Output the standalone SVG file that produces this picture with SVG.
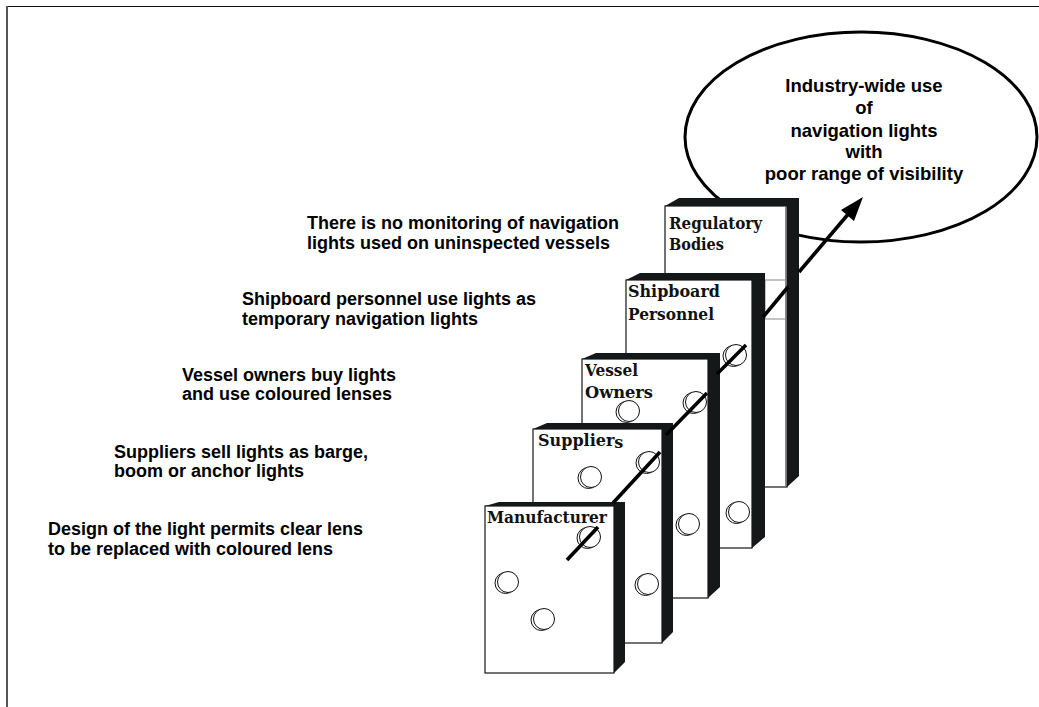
<svg xmlns="http://www.w3.org/2000/svg" width="1039" height="707" viewBox="0 0 1039 707">
<style>
.side{fill:#151818;stroke:none}
.face{fill:#fff;stroke:#151818;stroke-width:1.2}
.lbl{font-family:"DejaVu Serif","Liberation Serif",serif;font-weight:bold;font-size:16px;fill:#111}
.note{font-family:"Liberation Sans",Arial,sans-serif;font-weight:bold;font-size:18px;fill:#000}
.oc{font-family:"Liberation Sans",Arial,sans-serif;font-weight:bold;font-size:18.5px;fill:#000;text-anchor:middle}
.hole{fill:#fff;stroke:#111;stroke-width:1}
.ray{stroke:#000;stroke-width:3.6;fill:none;stroke-linecap:butt}
</style>
<defs>
<g id="h"><circle class="hole" cx="-2.5" cy="1" r="10.5"/><circle class="hole" cx="0" cy="0" r="10.5"/></g>
</defs>
<rect width="1039" height="707" fill="#fff"/>
<g id="frame">
<line x1="7" y1="6.5" x2="1039" y2="6.5" stroke="#111" stroke-width="1.2"/>
<line x1="7" y1="6" x2="7" y2="707" stroke="#555" stroke-width="2"/>
</g>
<g id="outcome">
<ellipse cx="861" cy="137" rx="176" ry="105" fill="#fff" stroke="#000" stroke-width="3"/>
<text class="oc" x="864" y="92">Industry-wide use</text>
<text class="oc" x="864" y="114">of</text>
<text class="oc" x="864" y="137">navigation lights</text>
<text class="oc" x="864" y="158">with</text>
<text class="oc" x="864" y="180">poor range of visibility</text>
</g>
<g id="notes">
<text class="note" x="307" y="229">There is no monitoring of navigation</text>
<text class="note" x="307" y="249">lights used on uninspected vessels</text>
<text class="note" x="242" y="305">Shipboard personnel use lights as</text>
<text class="note" x="242" y="325">temporary navigation lights</text>
<text class="note" x="182" y="381">Vessel owners buy lights</text>
<text class="note" x="182" y="400">and use coloured lenses</text>
<text class="note" x="114" y="458">Suppliers sell lights as barge,</text>
<text class="note" x="114" y="477">boom or anchor lights</text>
<text class="note" x="48" y="535">Design of the light permits clear lens</text>
<text class="note" x="48" y="555">to be replaced with coloured lens</text>
</g>
<g id="regulatory">
<polygon class="side" points="665,206 679,198 799,198 799,476 787,487 787,206"/>
<rect class="face" x="665" y="206" width="122" height="281"/>
<line x1="785.5" y1="207" x2="785.5" y2="486" stroke="#888" stroke-width="1"/>
<rect x="765" y="280" width="20.5" height="39" fill="none" stroke="#888" stroke-width="1"/>
<text class="lbl" x="669" y="229" textLength="93" lengthAdjust="spacingAndGlyphs">Regulatory</text>
<text class="lbl" x="669" y="250" textLength="55" lengthAdjust="spacingAndGlyphs">Bodies</text>
</g>
<g id="shipboard">
<polygon class="side" points="626,280 640,273 765,273 765,537 752,548 752,280"/>
<rect class="face" x="626" y="280" width="126" height="268"/>
<use href="#h" x="736" y="355"/>
<use href="#h" x="739" y="512"/>
<text class="lbl" x="628" y="297" textLength="92" lengthAdjust="spacingAndGlyphs" style="font-weight:600">Shipboard</text>
<text class="lbl" x="628" y="320" textLength="86" lengthAdjust="spacingAndGlyphs" style="font-weight:600">Personnel</text>
</g>
<g id="vessel">
<polygon class="side" points="582,359 596,353 720,353 720,587 708,598 708,359"/>
<rect class="face" x="582" y="359" width="126" height="239"/>
<use href="#h" x="629" y="411"/>
<use href="#h" x="696" y="402"/>
<use href="#h" x="689" y="524"/>
<text class="lbl" x="585" y="376" textLength="53" lengthAdjust="spacingAndGlyphs">Vessel</text>
<text class="lbl" x="585" y="398" textLength="68" lengthAdjust="spacingAndGlyphs">Owners</text>
</g>
<g id="suppliers">
<polygon class="side" points="533,429 547,423 673,423 673,632 662,643 662,429"/>
<rect class="face" x="533" y="429" width="129" height="214"/>
<use href="#h" x="649" y="462"/>
<use href="#h" x="591" y="477"/>
<use href="#h" x="648" y="584"/>
<text class="lbl" x="538" y="446">Supplier<tspan dy="2">s</tspan></text>
</g>
<g id="manufacturer">
<polygon class="side" points="485,506 499,502 625,502 625,662 614,673 614,506"/>
<rect class="face" x="485" y="506" width="129" height="167"/>
<use href="#h" x="590" y="537"/>
<use href="#h" x="508" y="582"/>
<use href="#h" x="544" y="619"/>
<text class="lbl" x="487" y="523" textLength="120" lengthAdjust="spacingAndGlyphs">Manufacturer</text>
</g>
<g id="connectors">
<line class="ray" x1="567" y1="560" x2="598" y2="527"/>
<line class="ray" x1="613" y1="503" x2="660" y2="452"/>
<line class="ray" x1="666" y1="435" x2="707" y2="393"/>
<line class="ray" x1="717" y1="374" x2="746" y2="345"/>
<line class="ray" x1="763" y1="317" x2="788" y2="287"/>
<line class="ray" x1="799" y1="272" x2="850" y2="212"/>
<polygon points="863,197 854,221 841,210" fill="#000"/>
</g>
</svg>
